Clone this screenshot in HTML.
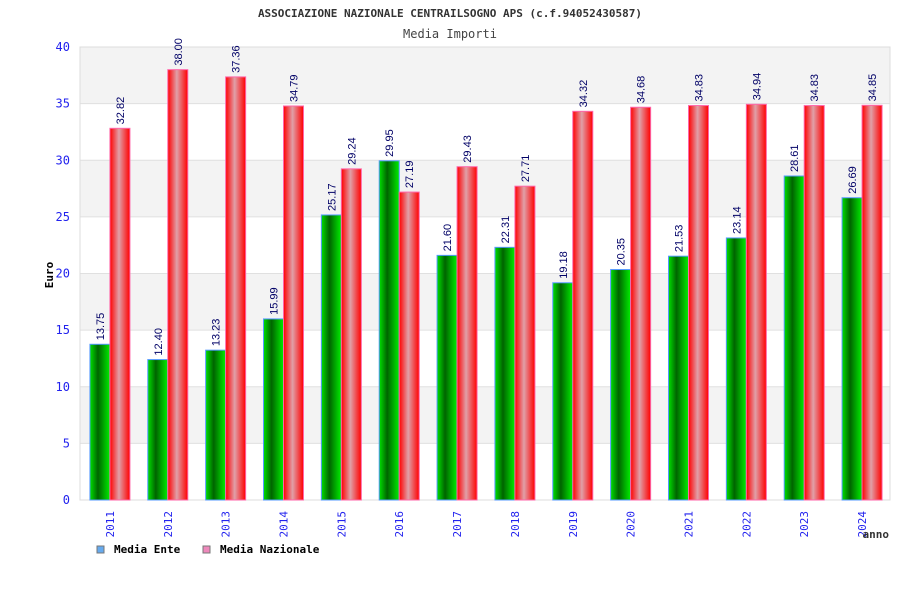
<!DOCTYPE html>
<html><head><meta charset="utf-8"><style>body{margin:0;background:#fff}svg{display:block}</style></head>
<body>
<svg id="c" width="900" height="600" xmlns="http://www.w3.org/2000/svg">
<defs>
<linearGradient id="gG" x1="0" x2="1"><stop offset="0" stop-color="#00e000"/><stop offset="0.4" stop-color="#006400"/><stop offset="1" stop-color="#00ee00"/></linearGradient>
<linearGradient id="gR" x1="0" x2="1"><stop offset="0" stop-color="#ff0000"/><stop offset="0.45" stop-color="#e0a0a8"/><stop offset="1" stop-color="#ff0000"/></linearGradient>
</defs>
<text x="450" y="17" text-anchor="middle" font-family="DejaVu Sans Mono, monospace" font-size="11" font-weight="bold" fill="#333">ASSOCIAZIONE NAZIONALE CENTRAILSOGNO APS (c.f.94052430587)</text>
<text x="450" y="38" text-anchor="middle" font-family="DejaVu Sans Mono, monospace" font-size="12" fill="#444">Media Importi</text>
<g id="grid"></g>
<g id="bars"></g>
<text transform="translate(53,275) rotate(-90)" text-anchor="middle" font-family="DejaVu Sans Mono, monospace" font-size="11" font-weight="bold" fill="#000">Euro</text>
<text x="889" y="538" text-anchor="end" font-family="DejaVu Sans Mono, monospace" font-size="11" font-weight="bold" fill="#333">anno</text>
<g font-family="DejaVu Sans Mono, monospace" font-size="11" font-weight="bold">
<rect x="97" y="546" width="7" height="7" fill="#66aaee" stroke="#777"/>
<text x="114" y="553">Media Ente</text>
<rect x="203" y="546" width="7" height="7" fill="#ee88bb" stroke="#777"/>
<text x="220" y="553">Media Nazionale</text>
</g>
</svg>
<script>
const years=['2011','2012','2013','2014','2015','2016','2017','2018','2019','2020','2021','2022','2023','2024'];
const ente=[13.75,12.40,13.23,15.99,25.17,29.95,21.60,22.31,19.18,20.35,21.53,23.14,28.61,26.69];
const nazionale=[32.82,38.00,37.36,34.79,29.24,27.19,29.43,27.71,34.32,34.68,34.83,34.94,34.83,34.85];
const yTicks=[0,5,10,15,20,25,30,35,40];
const NS='http://www.w3.org/2000/svg';
const L=80,R=890,T=47,B=500,ymax=40;
const y=v=>B-(v/ymax)*(B-T);
const gw=(R-L)/years.length;
const grid=document.getElementById('grid'),bars=document.getElementById('bars');
function mk(tag,attrs,parent){const e=document.createElementNS(NS,tag);for(const k in attrs)e.setAttribute(k,attrs[k]);parent.appendChild(e);return e;}
for(let i=0;i<yTicks.length-1;i++){
  if(i%2===1){const r=mk('rect',{x:L,y:y(yTicks[i+1]),width:R-L,height:y(yTicks[i])-y(yTicks[i+1]),fill:'#f3f3f3'},grid);
  
  }
}
yTicks.forEach(t=>{
  const l=mk('line',{x1:L,x2:R,y1:y(t),y2:y(t),stroke:'#e0e0e0'},grid);
  
  
  const tx=mk('text',{x:70,y:y(t)+4,'text-anchor':'end','font-family':'DejaVu Sans Mono, monospace','font-size':'12',fill:'#2222ee'},grid);
  tx.textContent=t;
  
  
});
const frame=mk('rect',{x:L,y:T,width:R-L,height:B-T,fill:'none',stroke:'#ddd'},grid);


function label(x,v,parent){
  const t=mk('text',{transform:`translate(${x+4},${y(v)-4}) rotate(-90)`,'font-family':'Liberation Sans, sans-serif','font-size':'11',fill:'#000066'},parent);
  t.textContent=v.toFixed(2);
  
  
}
years.forEach((yr,i)=>{
  const c=L+gw*(i+0.5)+1;
  const g=mk('rect',{x:c-20,y:y(ente[i]),width:20,height:B-y(ente[i]),fill:'url(#gG)',stroke:'#5599ff','stroke-width':'1'},bars);
  
  
  const r=mk('rect',{x:c,y:y(nazionale[i]),width:20,height:B-y(nazionale[i]),fill:'url(#gR)',stroke:'#ff66aa','stroke-width':'1'},bars);
  
  
  label(c-10,ente[i],bars);label(c+10,nazionale[i],bars);
  const t=mk('text',{transform:`translate(${c+4},${511}) rotate(-90)`,'text-anchor':'end','font-family':'DejaVu Sans Mono, monospace','font-size':'11',fill:'#2222ee'},bars);
  t.textContent=yr;
  
  
});
</script>
</body></html>
